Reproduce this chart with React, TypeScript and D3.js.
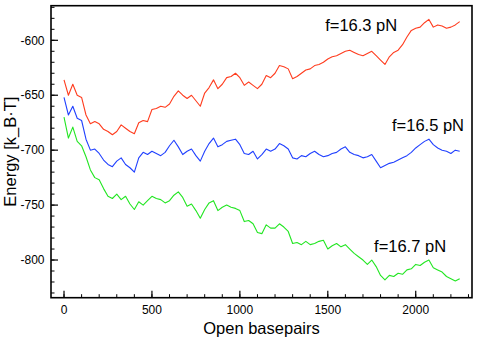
import React from "react";
import * as d3 from "d3";

const bp: number[] = d3.range(0, 2251, 25);

const red: number[] = [
  -636, -650, -640, -650, -652, -668, -676, -674, -676, -681,
  -683, -686, -683, -677, -680, -683, -685, -675, -673, -674,
  -663, -662, -660, -661, -658, -651, -646, -650, -653, -650,
  -655, -660, -648, -643, -636, -644, -640, -634, -633, -630,
  -634, -641, -638, -641, -644, -640, -632, -634, -630, -623,
  -624, -626, -635, -633, -630, -627, -626, -623, -622, -620,
  -617, -615, -614, -612, -610, -609, -611, -613, -614, -612,
  -610, -614, -618, -622, -615, -611, -609, -604, -597, -591,
  -589, -588, -584, -581, -588, -586, -587, -589, -588, -586,
  -583,
];

const blue: number[] = [
  -652, -668, -660, -671, -673, -690, -700, -699, -703, -709,
  -713, -715, -710, -707, -713, -716, -720, -707, -702, -704,
  -701, -703, -705, -702, -696, -691, -697, -704, -701, -699,
  -705, -710, -701, -694, -689, -697, -695, -692, -691, -690,
  -695, -703, -704, -701, -708, -704, -699, -701, -699, -694,
  -696, -699, -707, -708, -705, -706, -703, -701, -704, -706,
  -705, -703, -702, -699, -697, -702, -704, -705, -707, -706,
  -704, -710, -716, -714, -712, -711, -709, -707, -705, -702,
  -698, -695, -692, -690, -695, -698, -700, -701, -703, -700,
  -701,
];

const green: number[] = [
  -670, -689, -679, -692, -696, -706, -718, -725, -727, -735,
  -742, -744, -740, -745, -742, -749, -754, -747, -750, -746,
  -742, -744, -745, -748, -746, -741, -738, -743, -751, -749,
  -755, -762, -754, -748, -746, -755, -752, -750, -752, -753,
  -755, -765, -764, -767, -775, -776, -768, -771, -771, -767,
  -770, -774, -785, -784, -786, -783, -786, -785, -783, -782,
  -790, -787, -785, -788, -786, -790, -794, -797, -800, -804,
  -800, -806, -814, -818, -814, -815, -812, -813, -809, -808,
  -804, -805, -802, -800, -807, -809, -811, -815, -817, -819,
  -817,
];

const seriesNames: string[] = ["f=16.3 pN", "f=16.5 pN", "f=16.7 pN"];
const seriesColors: string[] = ["#ff3c1e", "#2040ff", "#22e622"];
const labelX: number[] = [1485, 1865, 1763];
const labelY: number[] = [-591.5, -683, -792.3];

const xTicks: number[] = [0, 500, 1000, 1500, 2000];
const xMinor: number[] = d3.range(0, 2301, 100);
const yTicks: number[] = [-800, -750, -700, -650, -600];
const yMinor: number[] = d3.range(-830, -569, 10);

export default function App() {
  const W = 480;
  const H = 339;
  const L = 51, R = 472, T = 5.7, B = 297.7;
  const x = d3.scaleLinear().domain([-74, 2320]).range([L, R]);
  const y = d3.scaleLinear().domain([-834.3, -568.5]).range([B, T]);
  const line = d3
    .line<[number, number]>()
    .x((d) => x(d[0]))
    .y((d) => y(d[1]));
  const all = [red, blue, green];
  const font = "'Liberation Sans', Arial, Helvetica, sans-serif";

  return (
    <svg
      width={W}
      height={H}
      style={{ position: "fixed", left: 0, top: 0, background: "#fff" }}
      fontFamily={font}
    >
      <rect x={0} y={0} width={W} height={H} fill="#fff" />
      {all.map((s, i) => (
        <path
          key={i}
          d={line(s.map((v, j) => [bp[j], v] as [number, number])) || ""}
          fill="none"
          stroke={seriesColors[i]}
          strokeWidth={1.1}
          strokeLinejoin="round"
        />
      ))}
      {/* minor ticks */}
      {xMinor.map((t) => (
        <line key={"xm" + t} x1={x(t)} x2={x(t)} y1={B} y2={B - 3.5} stroke="#000" strokeWidth={1} />
      ))}
      {xTicks.map((t) => (
        <g key={"x" + t}>
          <line x1={x(t)} x2={x(t)} y1={B} y2={B - 7} stroke="#000" strokeWidth={1.2} />
          <text x={x(t)} y={B + 16.5} textAnchor="middle" fontSize={12} fill="#000">
            {t}
          </text>
        </g>
      ))}
      {yMinor.map((t) => (
        <line key={"ym" + t} x1={L} x2={L + 3.5} y1={y(t)} y2={y(t)} stroke="#000" strokeWidth={1} />
      ))}
      {yTicks.map((t) => (
        <g key={"y" + t}>
          <line x1={L} x2={L + 7} y1={y(t)} y2={y(t)} stroke="#000" strokeWidth={1.2} />
          <text x={L - 6.5} y={y(t) + 4.2} textAnchor="end" fontSize={12} fill="#000">
            {t}
          </text>
        </g>
      ))}
      <rect x={L} y={T} width={R - L} height={B - T} fill="none" stroke="#000" strokeWidth={1.6} />
      {seriesNames.map((n, i) => (
        <text key={n} x={x(labelX[i])} y={y(labelY[i])} fontSize={16.5} fill="#000">
          {n}
        </text>
      ))}
      <text x={(L + R) / 2} y={334} textAnchor="middle" fontSize={16.5} fill="#000">
        Open basepairs
      </text>
      <text
        transform={`translate(16,${(T + B) / 2}) rotate(-90)`}
        textAnchor="middle"
        fontSize={16.5}
        fill="#000"
      >
        Energy [k_B·T]
      </text>
    </svg>
  );
}
